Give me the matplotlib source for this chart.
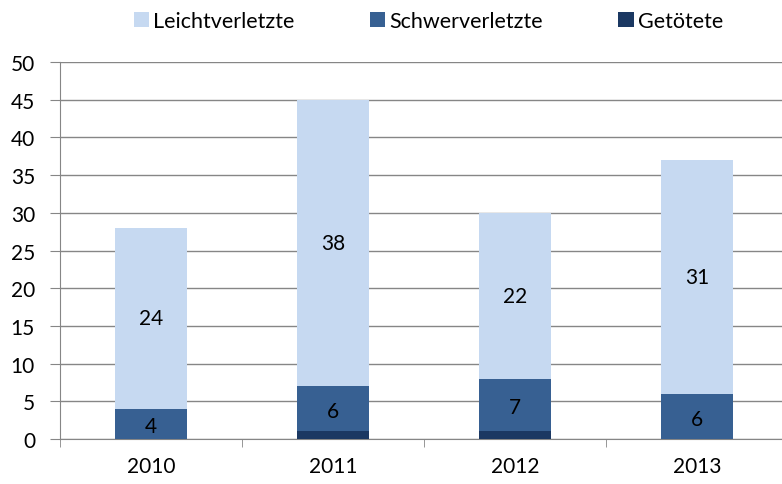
import matplotlib.pyplot as plt
import numpy as np

years = ["2010", "2011", "2012", "2013"]
getoetete = [0, 1, 1, 0]
schwer = [4, 6, 7, 6]
leicht = [24, 38, 22, 31]

plt.rcParams['font.family'] = ['Lato', 'DejaVu Sans']

fig = plt.figure(figsize=(7.82, 4.85), dpi=100)
# axes runs slightly past the right edge of the image, as in the original
ax = fig.add_axes([60 / 782, 45 / 485, 728 / 782, 377 / 485])

x = np.arange(len(years))
w = 0.40
c_leicht = "#C6D9F1"
c_schwer = "#376092"
c_tot = "#1B3862"

b1 = ax.bar(x, getoetete, w, color=c_tot, label="Getötete", zorder=3)
b2 = ax.bar(x, schwer, w, bottom=getoetete, color=c_schwer, label="Schwerverletzte", zorder=3)
bottom2 = np.array(getoetete) + np.array(schwer)
b3 = ax.bar(x, leicht, w, bottom=bottom2, color=c_leicht, label="Leichtverletzte", zorder=3)

# labels inside segments
for xi, g, s, l in zip(x, getoetete, schwer, leicht):
    ax.text(xi, g + s / 2 - 0.3, str(s), ha="center", va="center", fontsize=15, color="black", zorder=4)
    ax.text(xi, g + s + l / 2, str(l), ha="center", va="center", fontsize=15, color="black", zorder=4)

ax.set_ylim(0, 50)
ax.set_yticks(range(0, 51, 5))
ax.set_xlim(-0.5, 3.5)
ax.yaxis.grid(True, color="#868686", linewidth=1, zorder=0)
ax.set_axisbelow(True)

for sp in ["top", "right"]:
    ax.spines[sp].set_visible(False)
ax.spines["left"].set_color("#868686")
ax.spines["bottom"].set_color("#868686")

ax.set_xticks(x)
ax.set_xticklabels(years)
ax.tick_params(axis="x", length=0, pad=12, labelsize=15)
ax.set_xticks(np.arange(-0.5, 4, 1), minor=True)
ax.tick_params(axis="x", which="minor", length=6, color="#868686")
ax.tick_params(axis="y", length=7, color="#868686", labelsize=15, pad=11)

handles = [b3, b2, b1]
fig.legend(handles, [h.get_label() for h in handles], loc="upper center",
           bbox_to_anchor=(0.548, 1.015), ncol=3, frameon=False, fontsize=15.5,
           handlelength=0.7, handleheight=0.7, handletextpad=0.2, columnspacing=3.5)

fig.savefig("out.png", dpi=100)
